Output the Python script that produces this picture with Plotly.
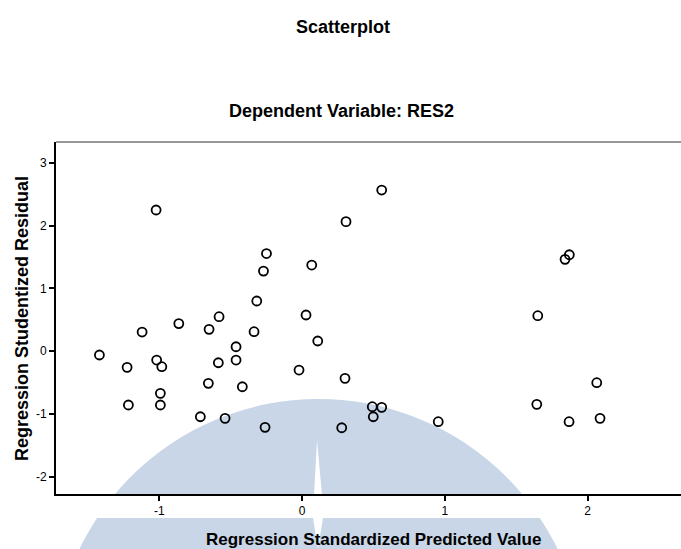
import plotly.graph_objects as go

# Data (standardized predicted value, studentized residual)
pred = [-1.022, -0.249, -0.270, -0.317, -0.581, -0.863, -0.651, -1.120, -0.336, -0.462,
        -1.419, -1.225, -1.018, -0.982, -0.586, -0.462, -0.656, -0.418, -0.992, -0.992,
        -1.216, -0.712, -0.539, -0.259, 0.558, 0.308, 0.068, 0.028, 0.110, -0.021,
        0.301, 0.492, 0.558, 0.499, 0.954, 0.278, 1.842, 1.872, 1.651, 2.064,
        1.644, 1.870, 2.087]
resid = [2.247, 1.554, 1.275, 0.798, 0.548, 0.439, 0.347, 0.304, 0.309, 0.070,
         -0.062, -0.258, -0.142, -0.248, -0.185, -0.142, -0.513, -0.567, -0.672, -0.858,
         -0.858, -1.045, -1.070, -1.213, 2.565, 2.061, 1.371, 0.575, 0.161, -0.301,
         -0.433, -0.885, -0.895, -1.045, -1.124, -1.220, 1.462, 1.535, 0.564, -0.503,
         -0.847, -1.124, -1.070]
x_ticks = [-1, 0, 1, 2]
y_ticks = [-2, -1, 0, 1, 2, 3]

W, H = 681, 549
L, R, T, B = 56, 0, 142, 55
PW, PH = W - L - R, H - T - B

def px(x):
    return (x - L) / PW

def py(y):
    return (H - B - y) / PH

font = "Liberation Sans, Arial, sans-serif"

fig = go.Figure()
fig.add_trace(go.Scatter(
    x=pred, y=resid, mode="markers",
    marker=dict(symbol="circle-open", size=9, color="black",
                line=dict(width=1.8, color="black")),
    showlegend=False, hoverinfo="x+y"))

wm = "rgb(200,214,232)"
shapes = [
    # watermark
    dict(type="circle", xref="paper", yref="paper", layer="below",
         x0=px(53), x1=px(584), y0=py(930), y1=py(399),
         fillcolor=wm, line=dict(width=0)),
    dict(type="rect", xref="paper", yref="paper", layer="below",
         x0=-0.2, x1=1.05, y0=py(518), y1=py(496),
         fillcolor="white", line=dict(width=0)),
    dict(type="path", xref="paper", yref="paper", layer="below",
         path=f"M {px(317)},{py(440)} L {px(314)},{py(495)} L {px(322)},{py(495)} Z",
         fillcolor="white", line=dict(width=0)),
    dict(type="path", xref="paper", yref="paper", layer="below",
         path=f"M {px(313)},{py(518)} L {px(323)},{py(518)} L {px(318)},{py(549)} Z",
         fillcolor="white", line=dict(width=0)),
    # top frame line
    dict(type="line", xref="paper", yref="paper", x0=0, x1=1, y0=1, y1=1,
         line=dict(color="#333", width=1)),
]

annotations = [
    dict(text="<b>Scatterplot</b>", x=px(343), y=py(27), xref="paper", yref="paper",
         xanchor="center", yanchor="middle",
         showarrow=False, font=dict(family=font, size=18, color="black")),
    dict(text="<b>Dependent Variable: RES2</b>", x=px(341), y=py(111), xref="paper", yref="paper",
         xanchor="center", yanchor="middle",
         showarrow=False, font=dict(family=font, size=18, color="black")),
    dict(text="<b>Regression Standardized Predicted Value</b>", x=px(373), y=py(539),
         xref="paper", yref="paper", xanchor="center", yanchor="middle", showarrow=False,
         font=dict(family=font, size=17, color="black")),
    dict(text="<b>Regression Studentized Residual</b>", x=px(22), y=py(319),
         xref="paper", yref="paper", xanchor="center", yanchor="middle",
         showarrow=False, textangle=-90,
         font=dict(family=font, size=18, color="black")),
]

fig.update_layout(
    width=W, height=H,
    margin=dict(l=L, r=R, t=T, b=B),
    paper_bgcolor="white", plot_bgcolor="rgba(0,0,0,0)",
    shapes=shapes, annotations=annotations,
    xaxis=dict(range=[-1.723, 2.654], tickvals=x_ticks, ticktext=[str(v) for v in x_ticks],
               showgrid=False, zeroline=False, showline=True, linecolor="black", linewidth=2,
               ticks="outside", ticklen=5, tickwidth=1.5, tickcolor="black",
               tickfont=dict(family=font, size=12, color="black")),
    yaxis=dict(range=[-2.275, 3.33], tickvals=y_ticks, ticktext=[str(v) for v in y_ticks],
               showgrid=False, zeroline=False, showline=True, linecolor="black", linewidth=2,
               ticks="outside", ticklen=5, tickwidth=1.5, tickcolor="black",
               tickfont=dict(family=font, size=12, color="black")),
)

fig.write_html("out.html", config={"displayModeBar": False},
               post_script="document.body.style.margin='0';")
